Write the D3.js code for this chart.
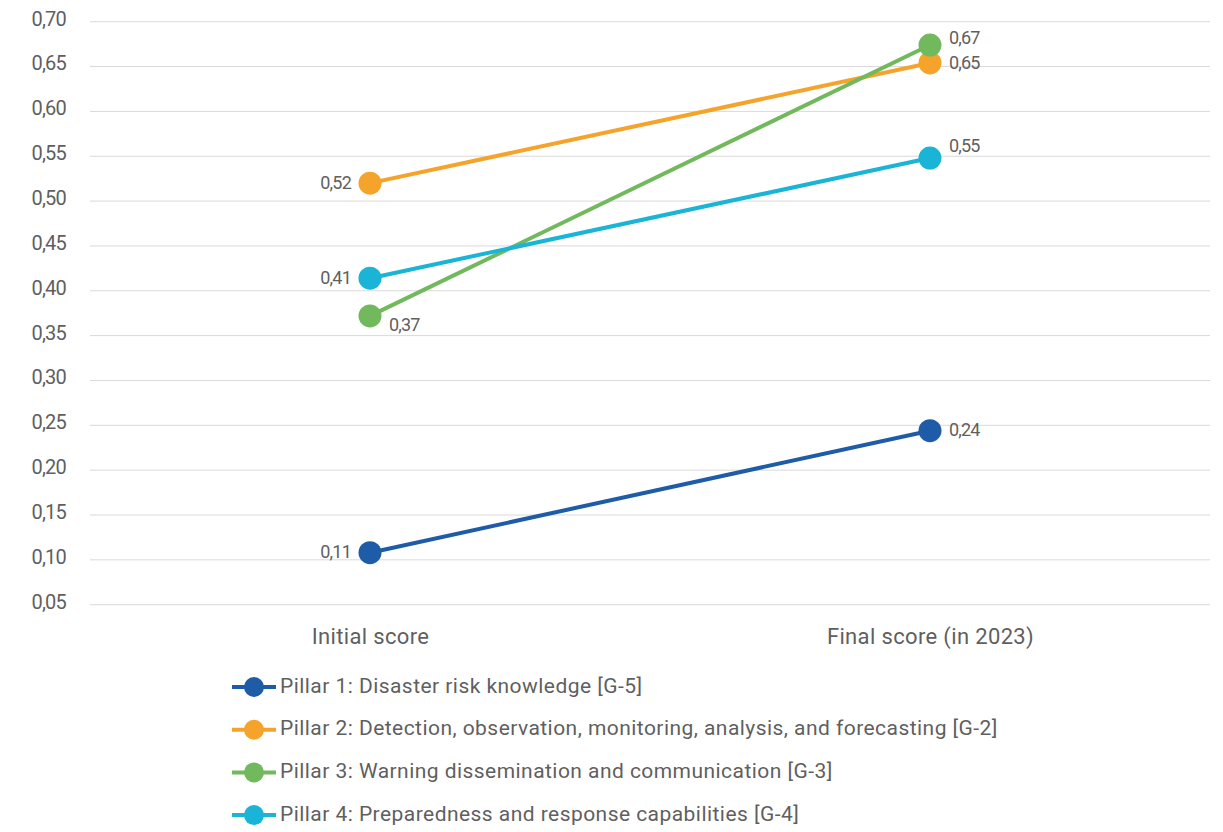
<!DOCTYPE html>
<html>
<head>
<meta charset="utf-8">
<script src="https://cdn.jsdelivr.net/npm/d3@7"></script>
<style>
  html, body { margin: 0; padding: 0; background: #fff; }
  svg { display: block; font-family: "Roboto", "Liberation Sans Narrow", sans-serif; }
</style>
</head>
<body>
<svg id="chart" width="1223" height="832"></svg>
<script>
// Score categories on the x axis
const categories = ["Initial score", "Final score (in 2023)"];

// Pillar names shown in the legend
const seriesNames = [
  "Pillar 1: Disaster risk knowledge [G-5]",
  "Pillar 2: Detection, observation, monitoring, analysis, and forecasting [G-2]",
  "Pillar 3: Warning dissemination and communication [G-3]",
  "Pillar 4: Preparedness and response capabilities [G-4]"
];

// Scores per pillar: [initial, final]
const pillar1 = [0.108, 0.244];
const pillar2 = [0.520, 0.654];
const pillar3 = [0.372, 0.674];
const pillar4 = [0.414, 0.548];

const seriesColors = ["#1f5ca8", "#f5a32a", "#72b85d", "#1ab4d7"];

// Y axis ticks
const yTicks = [0.05, 0.10, 0.15, 0.20, 0.25, 0.30, 0.35, 0.40, 0.45, 0.50, 0.55, 0.60, 0.65, 0.70];

const seriesValues = [pillar1, pillar2, pillar3, pillar4];
const series = seriesNames.map((name, i) => ({
  name, color: seriesColors[i], values: seriesValues[i]
}));

// Value label placement for each point: [initial, final]
const labelOffsets = [
  [{ side: "left", dy: 1 },  { side: "right", dy: 1 }],
  [{ side: "left", dy: 1 },  { side: "right", dy: 1 }],
  [{ side: "right", dy: 10 }, { side: "right", dy: -6 }],
  [{ side: "left", dy: 1 },  { side: "right", dy: -11 }]
];

const svg = d3.select("#chart");
const plotLeft = 90, plotRight = 1210, plotTop = 21.7, plotBottom = 604.7;

const x = d3.scalePoint().domain(categories).range([plotLeft, plotRight]).padding(0.5);
const y = d3.scaleLinear().domain([0.05, 0.70]).range([plotBottom, plotTop]);

const fmt = v => d3.format(".2f")(v).replace(".", ",");
const textColor = "#5f5f5f";

// Gridlines
svg.append("g")
  .selectAll("line")
  .data(yTicks)
  .join("line")
  .attr("x1", plotLeft).attr("x2", plotRight)
  .attr("y1", d => y(d)).attr("y2", d => y(d))
  .attr("stroke", "#d9d9d9").attr("stroke-width", 1);

// Y axis labels
const yAxis = d3.axisLeft(y).tickValues(yTicks).tickFormat(fmt).tickSize(0).tickPadding(0);
const yg = svg.append("g").attr("transform", "translate(66,-3)").call(yAxis);
yg.select(".domain").remove();
yg.attr("font-family", null).attr("font-size", null);
yg.selectAll("text")
  .attr("fill", textColor)
  .style("font-size", "20px")
  .attr("letter-spacing", "-0.8");

// X axis labels
const xAxis = d3.axisBottom(x).tickSize(0).tickPadding(0);
const xg = svg.append("g").attr("transform", "translate(0,628)").call(xAxis);
xg.select(".domain").remove();
xg.attr("font-family", null).attr("font-size", null);
xg.selectAll("text")
  .attr("fill", textColor)
  .style("font-size", "22px")
  .attr("letter-spacing", "0.35");

// Lines and markers
const line = d3.line().x((d, i) => x(categories[i])).y(d => y(d));
const sg = svg.append("g").selectAll("g").data(series).join("g");
sg.append("path")
  .attr("d", d => line(d.values))
  .attr("fill", "none")
  .attr("stroke", d => d.color)
  .attr("stroke-width", 4);
sg.selectAll("circle")
  .data(d => d.values.map((v, i) => ({ v, i, color: d.color })))
  .join("circle")
  .attr("cx", d => x(categories[d.i]))
  .attr("cy", d => y(d.v))
  .attr("r", 11.5)
  .attr("fill", d => d.color);

// Value labels
const labels = [];
series.forEach((s, si) => s.values.forEach((v, i) => labels.push({ v, i, off: labelOffsets[si][i] })));
svg.append("g").selectAll("text")
  .data(labels)
  .join("text")
  .attr("x", d => {
    const cx = x(categories[d.i]);
    return d.off.side === "left" ? cx - 19 : cx + 19;
  })
  .attr("y", d => y(d.v) + d.off.dy)
  .attr("text-anchor", d => d.off.side === "left" ? "end" : "start")
  .attr("dominant-baseline", "middle")
  .attr("fill", textColor)
  .style("font-size", "18px")
  .attr("letter-spacing", "-0.8")
  .text(d => fmt(d.v));

// Legend
const legend = svg.append("g").selectAll("g")
  .data(series)
  .join("g")
  .attr("transform", (d, i) => `translate(232,${687 + i * 42.7})`);
legend.append("line")
  .attr("x1", 0).attr("x2", 44)
  .attr("stroke", d => d.color).attr("stroke-width", 4);
legend.append("circle")
  .attr("cx", 22).attr("r", 10)
  .attr("fill", d => d.color);
legend.append("text")
  .attr("x", 48)
  .attr("dominant-baseline", "middle")
  .attr("fill", textColor)
  .style("font-size", "21px")
  .attr("letter-spacing", "0.45")
  .text(d => d.name);
</script>
</body>
</html>
